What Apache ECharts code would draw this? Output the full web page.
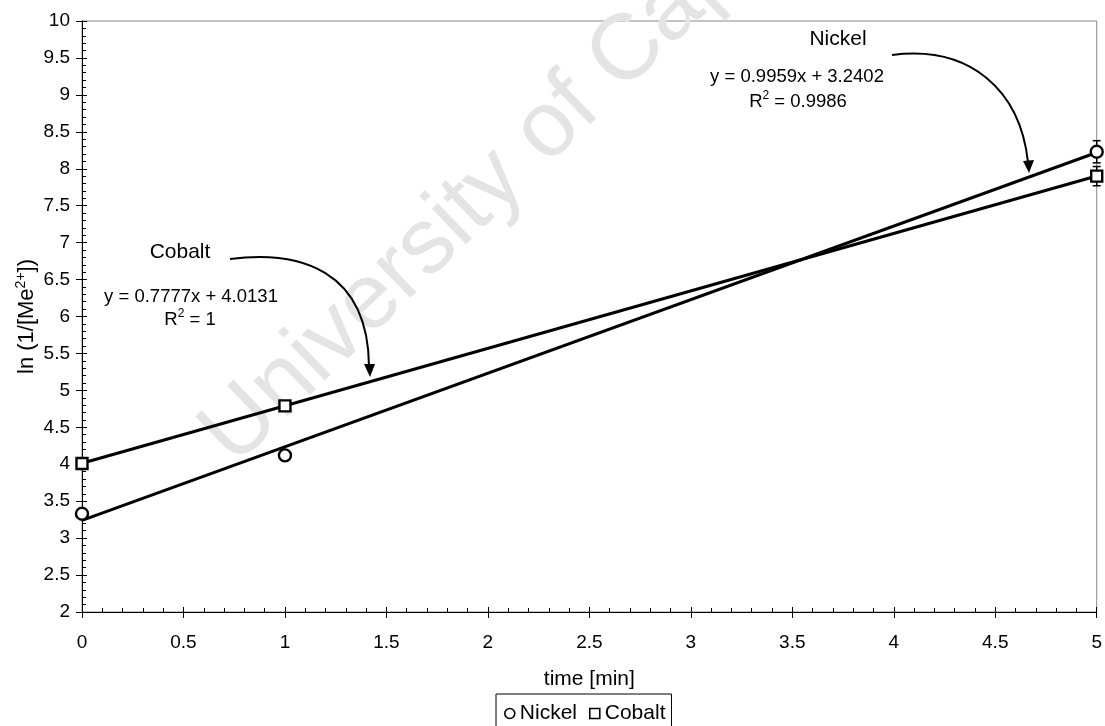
<!DOCTYPE html>
<html>
<head>
<meta charset="utf-8">
<script src="https://cdn.jsdelivr.net/npm/echarts@6/dist/echarts.min.js"></script>
<style>
  html, body { margin: 0; padding: 0; background: #fff; }
  #chart { width: 1105px; height: 726px; }
</style>
</head>
<body>
<div id="chart"></div>
<script>
// Measured points: ln(1/[Me2+]) against time
const timeMin   = [0, 1, 5];
const nickelLn  = [3.33, 4.12, 8.23];
const cobaltLn  = [4.01, 4.79, 7.90];
const nickelErr = [0, 0, 0.15];
const cobaltErr = [0, 0, 0.13];
const seriesNames = ['Nickel', 'Cobalt'];

// Linear trend lines (as stated in the annotations)
const fitSlope     = [0.9959, 0.7777];
const fitIntercept = [3.2402, 4.0131];
const fitR2        = ['0.9986', '1'];

// Axis scales
const xRange = [0, 5];
const xStep = 0.5;
const yRange = [2, 10];
const yStep = 0.5;

const FONT = '"Liberation Sans", Arial, sans-serif';

function fitLine(i) {
  return xRange.map(x => [x, +(fitSlope[i] * x + fitIntercept[i]).toFixed(4)]);
}
function equation(i) {
  return 'y = ' + fitSlope[i].toFixed(4) + 'x + ' + fitIntercept[i].toFixed(4);
}

function errorBars(name, values, errs) {
  return {
    name: name + ' error',
    type: 'custom',
    silent: true,
    z: 3,
    data: timeMin.map((t, i) => [t, values[i], errs[i]]),
    encode: { x: 0, y: 1 },
    renderItem: function (params, api) {
      const x = api.value(0), y = api.value(1), e = api.value(2);
      if (!e) return { type: 'group', children: [] };
      const top = api.coord([x, y + e]);
      const bot = api.coord([x, y - e]);
      const w = 4;
      const st = { stroke: '#000', lineWidth: 1.5 };
      return {
        type: 'group',
        children: [
          { type: 'line', shape: { x1: top[0], y1: top[1], x2: bot[0], y2: bot[1] }, style: st },
          { type: 'line', shape: { x1: top[0] - w, y1: top[1], x2: top[0] + w, y2: top[1] }, style: st },
          { type: 'line', shape: { x1: bot[0] - w, y1: bot[1], x2: bot[0] + w, y2: bot[1] }, style: st }
        ]
      };
    }
  };
}

const chart = echarts.init(document.getElementById('chart'), null, { renderer: 'canvas' });

const baseX = { type: 'value', min: xRange[0], max: xRange[1], interval: xStep, position: 'bottom', splitLine: { show: false } };
const baseY = { type: 'value', min: yRange[0], max: yRange[1], interval: yStep, position: 'left', splitLine: { show: false } };

const richEq = {
  a: { fontSize: 18.5, fontFamily: FONT, fill: '#000', lineHeight: 24, verticalAlign: 'middle' },
  s: { fontSize: 12, fontFamily: FONT, fill: '#000', lineHeight: 24, verticalAlign: 'top' }
};

function text(x, y, str, size) {
  return { type: 'text', x: x, y: y, z: 10,
    style: { text: str, fontSize: size, fontFamily: FONT, fill: '#000', align: 'center', verticalAlign: 'middle' } };
}
function r2Text(x, y, i) {
  return { type: 'text', x: x, y: y, z: 10,
    style: { text: '{a|R}{s|2}{a| = ' + fitR2[i] + '}', rich: richEq, fill: '#000', align: 'center', verticalAlign: 'middle' } };
}

const markerStyle = { color: '#fff', borderColor: '#000', borderWidth: 2.4, opacity: 1 };

const option = {
  animation: false,
  backgroundColor: '#fff',
  grid: { left: 82, right: 6, top: 21, bottom: 114, show: true, borderColor: '#888', borderWidth: 1, backgroundColor: 'transparent' },
  xAxis: [
    Object.assign({}, baseX, {
      axisLine: { show: true, lineStyle: { color: '#000', width: 1 } },
      axisTick: { show: true, inside: false, length: 6, lineStyle: { color: '#000' } },
      axisLabel: { fontSize: 19, fontFamily: FONT, color: '#000', margin: 21 },
      name: 'time [min]', nameLocation: 'middle', nameGap: 57, nameMoveOverlap: false,
      nameTextStyle: { fontSize: 21, fontFamily: FONT, color: '#000' }
    }),
    Object.assign({}, baseX, {
      axisLine: { show: false },
      axisTick: { show: true, inside: true, length: 5, lineStyle: { color: '#000' } },
      minorTick: { show: true, splitNumber: 5, length: 4, lineStyle: { color: '#000', width: 1 } },
      axisLabel: { show: false }
    })
  ],
  yAxis: [
    Object.assign({}, baseY, {
      axisLine: { show: true, lineStyle: { color: '#000', width: 1 } },
      axisTick: { show: true, inside: false, length: 6, lineStyle: { color: '#000' } },
      axisLabel: { fontSize: 19, fontFamily: FONT, color: '#000', margin: 12 },
      name: '{a|ln (1/[Me}{s|2+}{a|])}', nameLocation: 'middle', nameGap: 42, nameRotate: 90,
      nameMoveOverlap: false,
      nameTextStyle: {
        rich: {
          a: { fontSize: 22, fontFamily: FONT, color: '#000', lineHeight: 26, verticalAlign: 'middle' },
          s: { fontSize: 14, fontFamily: FONT, color: '#000', lineHeight: 26, verticalAlign: 'top' }
        }
      }
    }),
    Object.assign({}, baseY, {
      axisLine: { show: false },
      axisTick: { show: true, inside: true, length: 5, lineStyle: { color: '#000' } },
      minorTick: { show: true, splitNumber: 5, length: 4, lineStyle: { color: '#000', width: 1 } },
      axisLabel: { show: false }
    })
  ],
  legend: {
    left: 496, top: 694,
    orient: 'horizontal',
    padding: [9, 6, 8, 8],
    itemGap: 12, itemWidth: 10, itemHeight: 10,
    borderColor: '#000', borderWidth: 1,
    textStyle: { fontSize: 21, fontFamily: FONT, color: '#000' },
    itemStyle: { color: '#fff', borderColor: '#000', borderWidth: 1.6 },
    data: [
      { name: seriesNames[0], icon: 'circle' },
      { name: seriesNames[1], icon: 'rect' }
    ]
  },
  graphic: [
    // watermark
    { type: 'text', x: 217, y: 449, rotation: 44 * Math.PI / 180, z: 0, silent: true,
      style: { text: 'University of Cape Town', fontSize: 93, fontFamily: FONT, fill: '#e4e4e4', align: 'left', verticalAlign: 'middle' } },
    // Nickel annotation
    text(838, 39, seriesNames[0], 21),
    text(797, 77, equation(0), 18.5),
    r2Text(798, 102, 0),
    { type: 'bezierCurve', z: 10, shape: { x1: 892, y1: 55, cpx1: 970, cpy1: 45, cpx2: 1020, cpy2: 90, x2: 1028, y2: 162 },
      style: { stroke: '#000', lineWidth: 2, fill: null } },
    { type: 'polygon', z: 10, shape: { points: [[1023, 161], [1034, 160], [1029, 173]] }, style: { fill: '#000' } },
    // Cobalt annotation
    text(180, 252, seriesNames[1], 21),
    text(191, 297, equation(1), 18.5),
    r2Text(190, 320, 1),
    { type: 'bezierCurve', z: 10, shape: { x1: 230, y1: 259, cpx1: 300, cpy1: 250, cpx2: 368, cpy2: 270, x2: 369, y2: 366 },
      style: { stroke: '#000', lineWidth: 2, fill: null } },
    { type: 'polygon', z: 10, shape: { points: [[364, 364], [375, 364], [370, 377]] }, style: { fill: '#000' } }
  ],
  series: [
    { name: seriesNames[0] + ' fit', type: 'line', data: fitLine(0), symbol: 'none', silent: true, z: 2,
      lineStyle: { color: '#000', width: 3 } },
    { name: seriesNames[1] + ' fit', type: 'line', data: fitLine(1), symbol: 'none', silent: true, z: 2,
      lineStyle: { color: '#000', width: 3 } },
    errorBars(seriesNames[0], nickelLn, nickelErr),
    errorBars(seriesNames[1], cobaltLn, cobaltErr),
    { name: seriesNames[0], type: 'scatter', z: 5, symbol: 'circle', symbolSize: 12,
      itemStyle: markerStyle, emphasis: { disabled: true },
      data: timeMin.map((t, i) => [t, nickelLn[i]]) },
    { name: seriesNames[1], type: 'scatter', z: 5, symbol: 'rect', symbolSize: 11,
      itemStyle: markerStyle, emphasis: { disabled: true },
      data: timeMin.map((t, i) => [t, cobaltLn[i]]) }
  ]
};

chart.setOption(option);
</script>
</body>
</html>
